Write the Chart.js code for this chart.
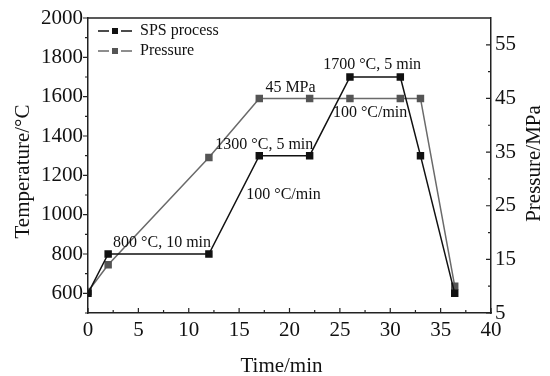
<!DOCTYPE html>
<html>
<head>
<meta charset="utf-8">
<script src="https://cdn.jsdelivr.net/npm/chart.js@4"></script>
<style>
  body { margin: 0; background: #fff; }
  canvas { display: block; }
</style>
</head>
<body>
<canvas id="chart" width="550" height="376"></canvas>
<script>
// data
var timeSPS = [0, 2, 12, 17, 22, 26, 31, 33, 36.4];
var temperature = [600, 800, 800, 1300, 1300, 1700, 1700, 1300, 600];
var timePressure = [0, 2, 12, 17, 22, 26, 31, 33, 36.4];
var pressure = [9, 14, 34, 45, 45, 45, 45, 45, 10];

var timeTicks = [0, 5, 10, 15, 20, 25, 30, 35, 40];
var tempTicks = [600, 800, 1000, 1200, 1400, 1600, 1800, 2000];
var pressureTicks = [5, 15, 25, 35, 45, 55];

var timeMinor = [2.5, 7.5, 12.5, 17.5, 22.5, 27.5, 32.5, 37.5];
var tempMinor = [500, 700, 900, 1100, 1300, 1500, 1700, 1900];
var pressureMinor = [10, 20, 30, 40, 50];

// text notes: [text, time, value, axis]
var notes = [
  ['800 °C, 10 min', 7.35, 855, 'y'],
  ['1300 °C, 5 min', 17.5, 1355, 'y'],
  ['100 °C/min', 19.4, 1100, 'y'],
  ['45 MPa', 20.1, 47, 'y1'],
  ['1700 °C, 5 min', 28.2, 1760, 'y'],
  ['100 °C/min', 28.0, 1520, 'y']
];

var serif = '"Liberation Serif", "Times New Roman", serif';

function toPoints(xs, ys) {
  return xs.map(function (x, i) { return { x: x, y: ys[i] }; });
}

function setTicks(values) {
  return function (axis) {
    axis.ticks = values.map(function (v) { return { value: v }; });
  };
}

function plain(v) { return String(v); }

var extras = {
  id: 'extras',
  afterDraw: function (chart) {
    var ctx = chart.ctx;
    var xs = chart.scales.x, ys = chart.scales.y, ps = chart.scales.y1;
    var area = chart.chartArea;
    ctx.save();
    ctx.strokeStyle = '#222';
    ctx.lineWidth = 1.2;
    ctx.beginPath();
    // x ticks point up into the plot
    timeTicks.forEach(function (v) {
      var px = xs.getPixelForValue(v);
      ctx.moveTo(px, area.bottom); ctx.lineTo(px, area.bottom - 5);
    });
    timeMinor.forEach(function (v) {
      var px = xs.getPixelForValue(v);
      ctx.moveTo(px, area.bottom); ctx.lineTo(px, area.bottom - 3);
    });
    // left ticks point out
    tempTicks.forEach(function (v) {
      var py = ys.getPixelForValue(v);
      ctx.moveTo(area.left, py); ctx.lineTo(area.left - 5, py);
    });
    tempMinor.forEach(function (v) {
      var py = ys.getPixelForValue(v);
      ctx.moveTo(area.left, py); ctx.lineTo(area.left - 3, py);
    });
    // right ticks point in
    pressureTicks.forEach(function (v) {
      var py = ps.getPixelForValue(v);
      ctx.moveTo(area.right, py); ctx.lineTo(area.right - 5, py);
    });
    pressureMinor.forEach(function (v) {
      var py = ps.getPixelForValue(v);
      ctx.moveTo(area.right, py); ctx.lineTo(area.right - 3, py);
    });
    ctx.stroke();

    // top border
    ctx.lineWidth = 1.5;
    ctx.beginPath();
    ctx.moveTo(area.left, area.top); ctx.lineTo(area.right, area.top);
    ctx.stroke();

    // notes
    ctx.fillStyle = '#111';
    ctx.font = '16px ' + serif;
    ctx.textAlign = 'center';
    ctx.textBaseline = 'middle';
    notes.forEach(function (n) {
      var sc = n[3] === 'y1' ? ps : ys;
      ctx.fillText(n[0], xs.getPixelForValue(n[1]), sc.getPixelForValue(n[2]));
    });

    // legend
    ctx.font = '16px ' + serif;
    ctx.textAlign = 'left';
    ctx.textBaseline = 'middle';
    chart.data.datasets.forEach(function (ds, i) {
      var ly = area.top + 13 + i * 20;
      ctx.strokeStyle = ds.borderColor;
      ctx.lineWidth = 1.5;
      ctx.beginPath();
      ctx.moveTo(area.left + 10, ly); ctx.lineTo(area.left + 21, ly);
      ctx.moveTo(area.left + 33, ly); ctx.lineTo(area.left + 44, ly);
      ctx.stroke();
      ctx.fillStyle = ds.pointBackgroundColor;
      ctx.fillRect(area.left + 24, ly - 3, 6, 6);
      ctx.fillStyle = '#111';
      ctx.fillText(ds.label, area.left + 52, ly);
    });

    // axis titles
    ctx.font = '21px ' + serif;
    ctx.textAlign = 'center';
    ctx.textBaseline = 'alphabetic';
    ctx.fillText('Time/min', (area.left + area.right) / 2 - 8, 372);
    ctx.save();
    ctx.translate(29, (area.top + area.bottom) / 2 + 6);
    ctx.rotate(-Math.PI / 2);
    ctx.fillText('Temperature/°C', 0, 0);
    ctx.restore();
    ctx.save();
    ctx.translate(540, (area.top + area.bottom) / 2 - 2);
    ctx.rotate(-Math.PI / 2);
    ctx.fillText('Pressure/MPa', 0, 0);
    ctx.restore();
    ctx.restore();
  }
};

var ctx = document.getElementById('chart').getContext('2d');
new Chart(ctx, {
  type: 'line',
  data: {
    datasets: [{
      label: 'SPS process',
      data: toPoints(timeSPS, temperature),
      yAxisID: 'y',
      borderColor: '#111',
      backgroundColor: '#111',
      pointBackgroundColor: '#111',
      pointBorderColor: '#111',
      pointStyle: 'rect',
      pointRadius: 4.2,
      borderWidth: 1.5,
      tension: 0
    }, {
      label: 'Pressure',
      data: toPoints(timePressure, pressure),
      yAxisID: 'y1',
      borderColor: '#6a6a6a',
      backgroundColor: '#555',
      pointBackgroundColor: '#555',
      pointBorderColor: '#555',
      pointStyle: 'rect',
      pointRadius: 4.2,
      borderWidth: 1.5,
      tension: 0
    }]
  },
  options: {
    responsive: false,
    animation: false,
    layout: { padding: { top: 18, right: 0, left: 0, bottom: 0 } },
    plugins: {
      legend: { display: false },
      tooltip: { enabled: false }
    },
    scales: {
      x: {
        type: 'linear',
        min: 0,
        max: 40,
        afterBuildTicks: setTicks(timeTicks),
        afterFit: function (s) { s.height = 63; },
        grid: { drawOnChartArea: false, drawTicks: false },
        border: { display: true, color: '#222', width: 1.5 },
        ticks: { color: '#111', padding: 5, maxRotation: 0, callback: plain, font: { family: serif, size: 21 } }
      },
      y: {
        position: 'left',
        min: 500,
        max: 2000,
        afterBuildTicks: setTicks(tempTicks),
        afterFit: function (s) { s.width = 88; },
        grid: { drawOnChartArea: false, drawTicks: false },
        border: { display: true, color: '#222', width: 1.5 },
        ticks: { color: '#111', padding: 5, callback: plain, font: { family: serif, size: 21 } }
      },
      y1: {
        position: 'right',
        min: 5,
        max: 60,
        afterBuildTicks: setTicks(pressureTicks),
        afterFit: function (s) { s.width = 59; },
        grid: { drawOnChartArea: false, drawTicks: false },
        border: { display: true, color: '#222', width: 1.5 },
        ticks: { color: '#111', padding: 4, callback: plain, font: { family: serif, size: 21 } }
      }
    }
  },
  plugins: [extras]
});
</script>
</body>
</html>
